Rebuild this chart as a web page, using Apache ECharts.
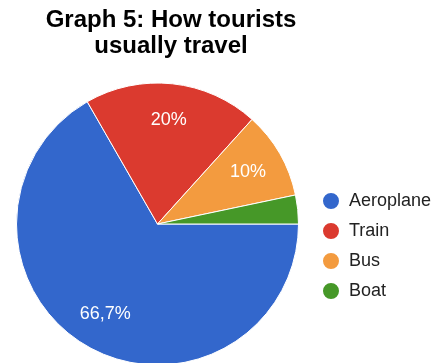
<!DOCTYPE html>
<html>
<head>
<meta charset="utf-8">
<script src="https://cdn.jsdelivr.net/npm/echarts@6/dist/echarts.min.js"></script>
<style>
  html, body { margin: 0; padding: 0; background: #fff; }
  #chart { width: 443px; height: 363px; }
</style>
</head>
<body>
<div id="chart"></div>
<script>
// Share of tourists by mode of transport (percent)
const categories = ['Aeroplane', 'Train', 'Bus', 'Boat'];
const shares = [66.7, 20, 10, 3.3];
const colors = ['#3367cc', '#db3a2f', '#f39b3f', '#469828'];

// Slices too thin to carry a readable label stay unlabelled
const minLabelShare = 5;

const fmt = v => String(v).replace('.', ',') + '%';

const center = [157.5, 224];
const outerR = 141;

const chart = echarts.init(document.getElementById('chart'), null, { renderer: 'canvas' });

chart.setOption({
  animation: false,
  color: colors,
  title: {
    text: 'Graph 5: How tourists\nusually travel',
    left: 171,
    top: 7,
    padding: 0,
    textAlign: 'center',
    textStyle: {
      fontFamily: 'Liberation Sans, Arial, sans-serif',
      fontWeight: 'bold',
      fontSize: 24,
      lineHeight: 26,
      color: '#000'
    }
  },
  legend: {
    orient: 'vertical',
    left: 321,
    top: 191,
    padding: 0,
    icon: 'circle',
    itemWidth: 18,
    itemHeight: 18,
    itemGap: 10,
    selectedMode: false,
    data: categories,
    textStyle: {
      fontFamily: 'Liberation Sans, Arial, sans-serif',
      fontSize: 18,
      color: '#222',
      padding: [0, 0, 0, 4]
    }
  },
  series: [
    {
      name: 'transport',
      type: 'pie',
      center: center,
      radius: [0, outerR],
      startAngle: 0,
      clockwise: true,
      silent: true,
      itemStyle: { borderColor: '#fff', borderWidth: 1 },
      label: { show: false },
      labelLine: { show: false },
      data: categories.map((c, i) => ({ name: c, value: shares[i] }))
    },
    {
      // transparent ring carrying the percentage labels at ~0.72 of the radius
      name: 'labels',
      type: 'pie',
      center: center,
      radius: [62, outerR],
      startAngle: 0,
      clockwise: true,
      silent: true,
      emphasis: { disabled: true },
      itemStyle: { color: 'rgba(0,0,0,0)', borderWidth: 0 },
      labelLine: { show: false },
      label: {
        show: true,
        position: 'inside',
        fontFamily: 'Liberation Sans, Arial, sans-serif',
        fontSize: 18,
        color: '#fff',
        formatter: p => (p.value < minLabelShare ? '' : fmt(p.value))
      },
      data: categories.map((c, i) => ({ name: c, value: shares[i] }))
    }
  ]
});
</script>
</body>
</html>
